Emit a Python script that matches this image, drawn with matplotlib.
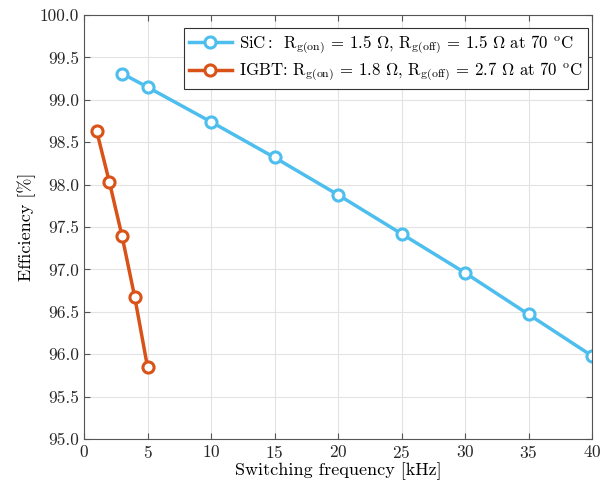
import matplotlib
matplotlib.use("Agg")
import matplotlib.pyplot as plt

plt.rcParams['font.family'] = 'serif'
plt.rcParams['font.serif'] = ['cmr10']
plt.rcParams['mathtext.fontset'] = 'cm'
plt.rcParams['axes.formatter.use_mathtext'] = True

sic_freq = [3, 5, 10, 15, 20, 25, 30, 35, 40]
sic_eff = [99.31, 99.15, 98.74, 98.32, 97.88, 97.42, 96.96, 96.47, 95.98]
igbt_freq = [1, 2, 3, 4, 5]
igbt_eff = [98.63, 98.03, 97.39, 96.67, 95.85]

xticks = [0, 5, 10, 15, 20, 25, 30, 35, 40]
yticks = [95.0, 95.5, 96.0, 96.5, 97.0, 97.5, 98.0, 98.5, 99.0, 99.5, 100.0]

sic_label = r'SiC$\,$:  $\mathrm{R_{g(on)}}$ = 1.5 $\Omega$, $\mathrm{R_{g(off)}}$ = 1.5 $\Omega$ at 70 $^{\mathrm{o}}$C'
igbt_label = r'IGBT: $\mathrm{R_{g(on)}}$ = 1.8 $\Omega$, $\mathrm{R_{g(off)}}$ = 2.7 $\Omega$ at 70 $^{\mathrm{o}}$C'

fig = plt.figure(figsize=(6.11, 4.84), dpi=100)
L, R, T, B = 84, 592, 15, 439
ax = fig.add_axes([L/611, (484-B)/484, (R-L)/611, (B-T)/484])

ax.plot(sic_freq, sic_eff, '-o', color='#4DBEEE', lw=2.5, ms=8, mfc='white', mew=2.2, label=sic_label)
ax.plot(igbt_freq, igbt_eff, '-o', color='#D95319', lw=2.5, ms=8, mfc='white', mew=2.2, label=igbt_label)

ax.set_xlim(0, 40)
ax.set_ylim(95, 100)
ax.set_xticks(xticks)
ax.set_yticks(yticks)
ax.set_yticklabels([f'{v:.1f}' for v in yticks])
ax.grid(True, color='#e3e3e3', lw=0.8)
ax.set_axisbelow(True)
for s in ax.spines.values():
    s.set_color('#555555')
    s.set_linewidth(0.8)
ax.tick_params(direction='in', top=True, right=True, labelsize=12.5, colors='#262626', length=4, color='#555555')
ax.set_xlabel('Switching frequency [kHz]', fontsize=13, labelpad=1)
ax.set_ylabel('Efficiency [%]', fontsize=13, labelpad=3)

leg = ax.legend(loc='upper right', bbox_to_anchor=((588-L)/(R-L), (B-28)/(B-T)),
                fontsize=12.1, fancybox=False, framealpha=1,
                edgecolor='#333333', handlelength=2.6, borderaxespad=0,
                borderpad=0.3, labelspacing=0.3, handletextpad=0.4)
leg.get_frame().set_linewidth(0.8)

fig.savefig('out.png', dpi=100)
